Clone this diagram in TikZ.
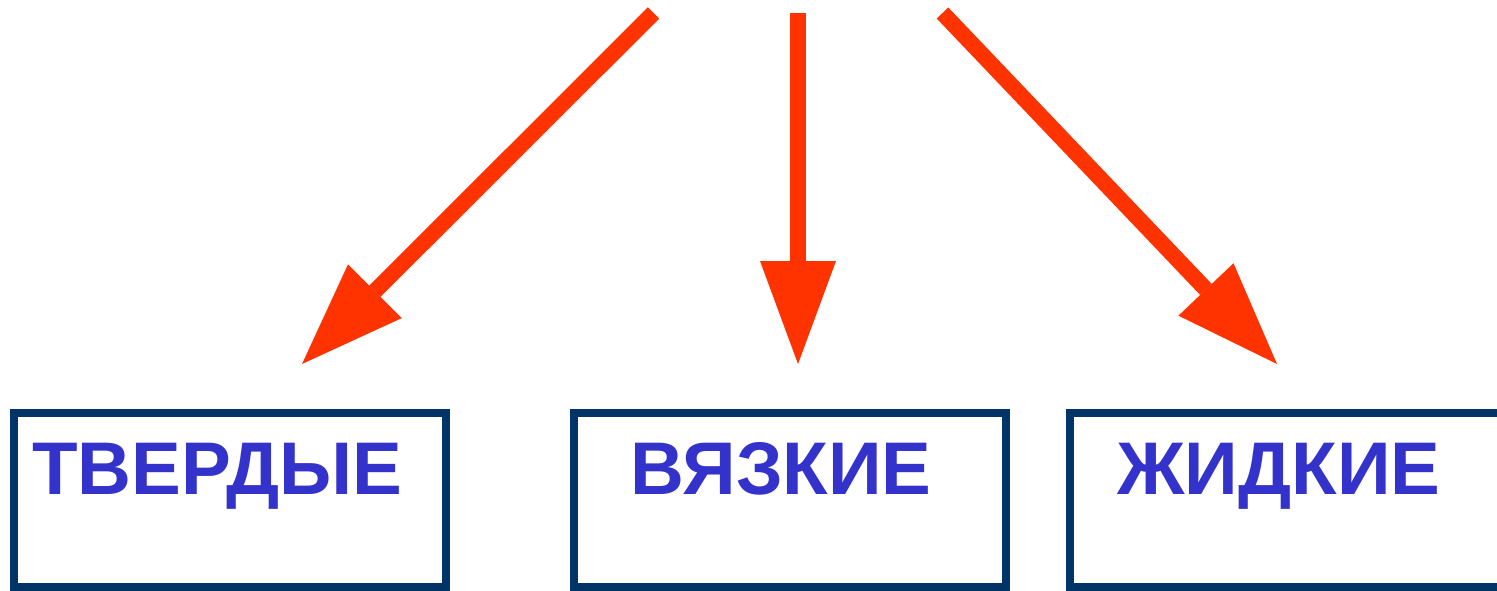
\documentclass[tikz,border=0pt]{standalone}
\usepackage{fontspec}
\setmainfont{Liberation Sans}
\usetikzlibrary{arrows.meta}
\definecolor{arrowred}{HTML}{FF3300}
\definecolor{framenavy}{HTML}{003366}
\definecolor{labelblue}{HTML}{3333CC}
\tikzset{
  bigarrow/.style={draw=arrowred, line width=8pt, line cap=butt,
    -{Triangle[length=51.5pt, width=38pt, line width=0pt, fill=arrowred, color=arrowred]}},
  framebox/.style={draw=framenavy, line width=4pt, fill=white, inner sep=0pt, outer sep=0pt, anchor=north west},
  caption/.style={text=labelblue, font=\fontsize{37.3}{40}\selectfont\bfseries, inner sep=0pt, anchor=base west}
}
\begin{document}
\begin{tikzpicture}[x=0.5pt, y=-0.5pt]
  \useasboundingbox (0,0) rectangle (1497,590);
  % frames
  \node[framebox, minimum width=216pt, minimum height=87pt] (solid) at (14,413) {};
  \node[framebox, minimum width=216pt, minimum height=87pt] (visc) at (574,413) {};
  \node[framebox, minimum width=230pt, minimum height=87pt] (liquid) at (1070,413) {};
  % captions
  \node[caption] (tsolid) at (32,494) {ТВЕРДЫЕ};
  \node[caption] (tvisc) at (630,494) {ВЯЗКИЕ};
  \node[caption] (tliquid) at (1117,494) {ЖИДКИЕ};
  % arrow ends
  \coordinate (sL) at (653.5,13);
  \coordinate (sM) at (798,13);
  \coordinate (sR) at (942.5,13);
  \coordinate (eL) at (302,364);
  \coordinate (eM) at (798,364);
  \coordinate (eR) at (1277,364);
  \draw[bigarrow] (sL) -- (eL);
  \draw[bigarrow] (sM) -- (eM);
  \draw[bigarrow] (sR) -- (eR);
\end{tikzpicture}
\end{document}
